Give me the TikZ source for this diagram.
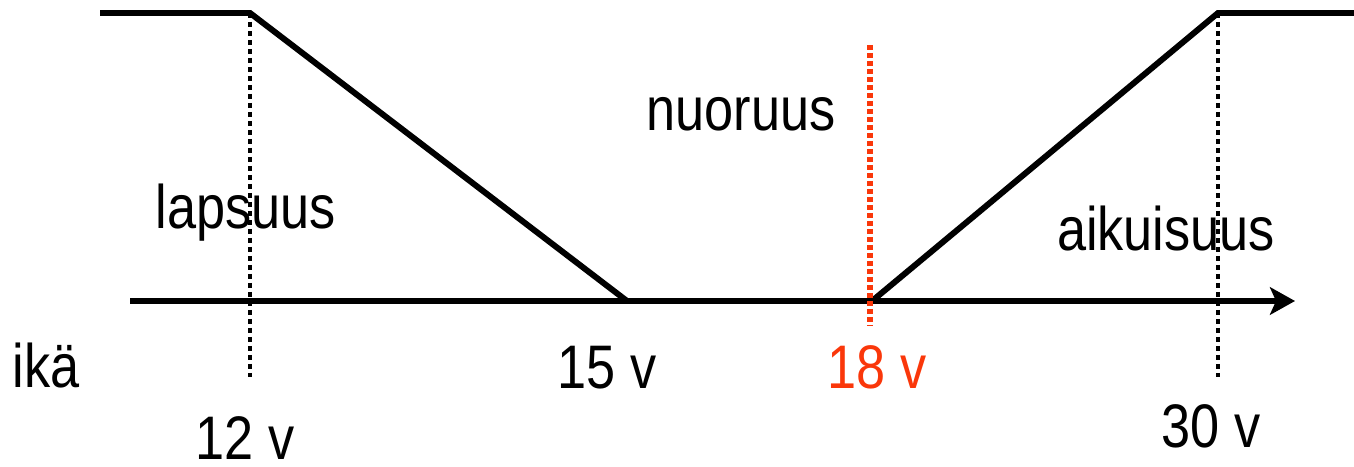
\documentclass[tikz,border=0pt]{standalone}
\usepackage{fontspec}
\setmainfont{Liberation Sans}[FakeStretch=0.85]
\usepackage{tikz}
\usetikzlibrary{arrows.meta, positioning}
\definecolor{agered}{RGB}{250, 55, 10}

\begin{document}
\begin{tikzpicture}[x=0.02cm, y=-0.02cm,
  curve/.style={line width=3.4pt},
  guide/.style={line width=2.3pt, dash pattern=on 0.11cm off 0.07cm},
  redguide/.style={line width=3pt, agered, dash pattern=on 0.1cm off 0.06cm},
  lbl/.style={anchor=base, inner sep=0pt, font=\fontsize{35}{40}\selectfont}]
  \useasboundingbox (0,0) rectangle (1354,466);

  % points of the curves
  \coordinate (c0) at (100,13);
  \coordinate (c12) at (250,13);
  \coordinate (c15) at (627,301);
  \coordinate (c18) at (872,301);
  \coordinate (c30) at (1218,13);
  \coordinate (c1) at (1354,13);
  \coordinate (ax0) at (130,301);
  \coordinate (ax1) at (1295,301);
  \coordinate (d12) at (250,377);
  \coordinate (d30) at (1218,377);
  \coordinate (r0) at (870,45);
  \coordinate (r1) at (870,326);

  % age axis and curves
  \draw[curve, -{Stealth[length=0.5cm, width=0.55cm, inset=0.12cm]}] (ax0) -- (ax1);
  \draw[curve] (c0) -- (c12) -- (c15);
  \draw[curve] (c18) -- (c30) -- (c1);

  % age marks
  \draw[guide] (c12) -- (d12);
  \draw[guide] (c30) -- (d30);
  \draw[redguide] (r0) -- (r1);

  \node[lbl] (lapsuus) at (246,228) {lapsuus};
  \node[lbl] (nuoruus) at (741,131) {nuoruus};
  \node[lbl] (aikuisuus) at (1166,250) {aikuisuus};
  \node[lbl] (ika) at (46,387) {ikä};
  \node[lbl] (v15) at (607,388) {15 v};
  \node[lbl, text=agered] (v18) at (877,388) {18 v};
  \node[lbl] (v12) at (245,459) {12 v};
  \node[lbl] (v30) at (1211,447) {30 v};
\end{tikzpicture}
\end{document}
